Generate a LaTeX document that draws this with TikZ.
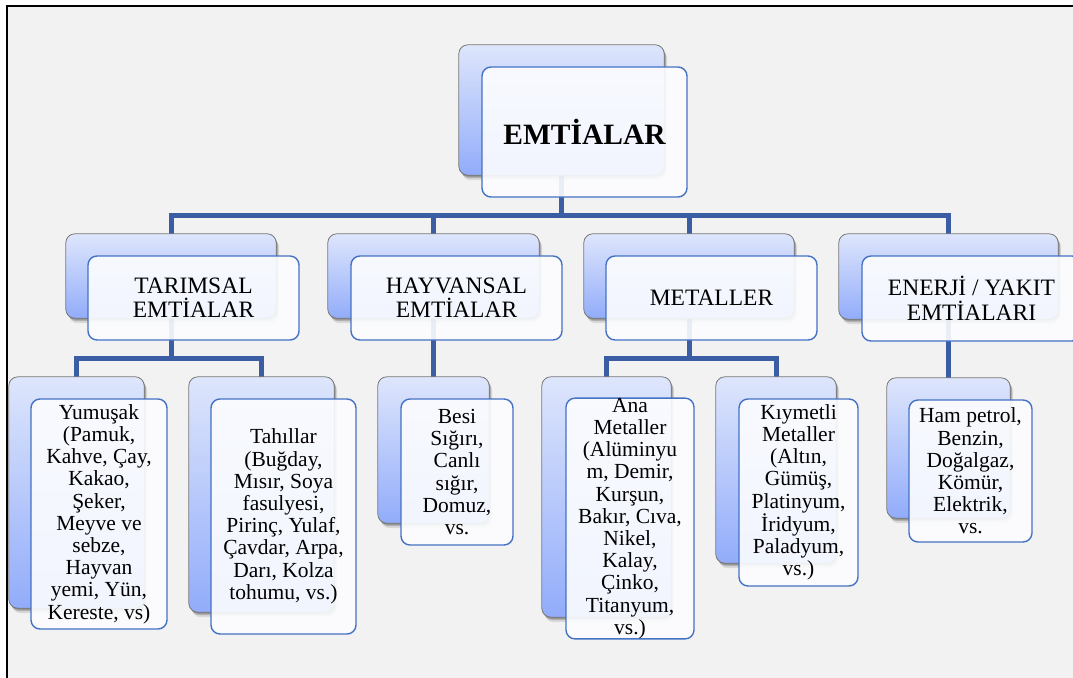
\documentclass[tikz,border=0pt]{standalone}
\usepackage{fontspec}
\setmainfont{Liberation Serif}
\usetikzlibrary{shadows}
\definecolor{connblue}{RGB}{59,93,163}
\definecolor{frontline}{RGB}{68,114,196}
\definecolor{backline}{RGB}{120,120,120}
\definecolor{gradtop}{RGB}{222,230,252}
\definecolor{gradbot}{RGB}{146,172,250}
\definecolor{bggray}{RGB}{242,242,242}
\definecolor{frontfill}{RGB}{252,253,255}
\newcommand\leaffont{\fontsize{21.5}{22.2}\selectfont}
\newcommand\midfont{\fontsize{23.5}{24.4}\selectfont}
\newcommand\rootfont{\fontsize{29.5}{31}\selectfont\bfseries}
\tikzset{
  backbox/.style={draw=backline, line width=0.8pt, rounded corners=9pt,
    top color=gradtop, bottom color=gradbot, inner sep=0pt,
    drop shadow={shadow xshift=3pt, shadow yshift=-5pt, opacity=0.10, fill=black},
    drop shadow={shadow xshift=2pt, shadow yshift=-3pt, opacity=0.18, fill=black},
    drop shadow={shadow xshift=1pt, shadow yshift=-1.5pt, opacity=0.22, fill=black}},
  frontbox/.style={draw=frontline, line width=1.4pt, rounded corners=9pt,
    fill=frontfill, fill opacity=0.9, text opacity=1, align=center, inner sep=0pt},
  leafbox/.style={frontbox, font=\leaffont},
  midbox/.style={frontbox, font=\midfont},
  conn/.style={draw=connblue, line width=5pt},
  sz/.style 2 args={minimum width=#1pt, minimum height=#2pt},
}
\begin{document}
\begin{tikzpicture}[x=1pt,y=-1pt]
\useasboundingbox (0,0) rectangle (1073,677);
% background frame
\fill[bggray] (7,6) rectangle (1080,680);
\draw[black, line width=2pt] (7,680) -- (7,6) -- (1080,6);

% coordinates of bars
\coordinate (bar1) at (0,215);
\coordinate (bar2) at (0,358);

% back box frames (named, drawn later)
\path
  (561.5,110) node[sz={205}{130}, inner sep=0pt] (rootB) {}
  (171,276)   node[sz={210}{84}, inner sep=0pt] (tarB) {}
  (433.5,276) node[sz={211}{84}, inner sep=0pt] (hayB) {}
  (689,276)   node[sz={210}{84}, inner sep=0pt] (metB) {}
  (948.5,276.5) node[sz={219}{85}, inner sep=0pt] (enB) {}
  (76.5,492.5) node[sz={135}{231}, inner sep=0pt] (yumB) {}
  (261.5,494.5) node[sz={145}{235}, inner sep=0pt] (tahB) {}
  (433.5,450) node[sz={111}{146}, inner sep=0pt] (besB) {}
  (606.5,497) node[sz={129}{240}, inner sep=0pt] (anaB) {}
  (776,470)   node[sz={120}{186}, inner sep=0pt] (kiyB) {}
  (948.5,448) node[sz={123}{140}, inner sep=0pt] (hamB) {};

% connectors
\draw[conn] (rootB.south) -- (rootB.south |- bar1);
\draw[conn] (tarB.north) |- (enB.north |- bar1) -- (enB.north);
\draw[conn] (hayB.north) -- (hayB.north |- bar1);
\draw[conn] (metB.north) -- (metB.north |- bar1);
\draw[conn] (tarB.south) -- (tarB.south |- bar2);
\draw[conn] (yumB.north) |- (tahB.north |- bar2) -- (tahB.north);
\draw[conn] (hayB.south) -- (besB.north);
\draw[conn] (metB.south) -- (metB.south |- bar2);
\draw[conn] (anaB.north) |- (kiyB.north |- bar2) -- (kiyB.north);
\draw[conn] (enB.south) -- (hamB.north);

% back boxes
\foreach \n in {rootB,tarB,hayB,metB,enB,yumB,tahB,besB,anaB,kiyB,hamB}
  \path[backbox] (\n.north west) rectangle (\n.south east);

% front boxes
\node[frontbox, font=\rootfont, sz={205}{130}] (rootF) at (584.5,132) {EMTİALAR};
\node[midbox, sz={211}{84}] (tarF) at (193.5,298) {TARIMSAL\\EMTİALAR};
\node[midbox, sz={211}{84}] (hayF) at (456.5,298) {HAYVANSAL\\EMTİALAR};
\node[midbox, sz={211}{84}] (metF) at (711.5,298) {METALLER};
\node[midbox, sz={219}{85}] (enF) at (971.5,298.5) {ENERJİ / YAKIT\\EMTİALARI};

\node[leafbox, sz={136}{230}] (yumF) at (99,514) {Yumuşak\\(Pamuk,\\Kahve, Çay,\\Kakao,\\Şeker,\\Meyve ve\\sebze,\\Hayvan\\yemi, Yün,\\Kereste, vs)};
\node[leafbox, sz={145}{235}] (tahF) at (283.5,516.5) {Tahıllar\\(Buğday,\\Mısır, Soya\\fasulyesi,\\Pirinç, Yulaf,\\Çavdar, Arpa,\\Darı, Kolza\\tohumu, vs.)};
\node[leafbox, sz={112}{146}] (besF) at (457,472) {Besi\\Sığırı,\\Canlı\\sığır,\\Domuz,\\vs.};
\node[leafbox, sz={128}{239}] (anaF) at (630,518.5) {Ana\\Metaller\\(Alüminyu\\m, Demir,\\Kurşun,\\Bakır, Cıva,\\Nikel,\\Kalay,\\Çinko,\\Titanyum,\\vs.)};
\node[leafbox, sz={119}{187}] (kiyF) at (798.5,492.5) {Kıymetli\\Metaller\\(Altın,\\Gümüş,\\Platinyum,\\İridyum,\\Paladyum,\\vs.)};
\node[leafbox, sz={123}{142}] (hamF) at (970.5,471) {Ham petrol,\\Benzin,\\Doğalgaz,\\Kömür,\\Elektrik,\\vs.};
\end{tikzpicture}
\end{document}
